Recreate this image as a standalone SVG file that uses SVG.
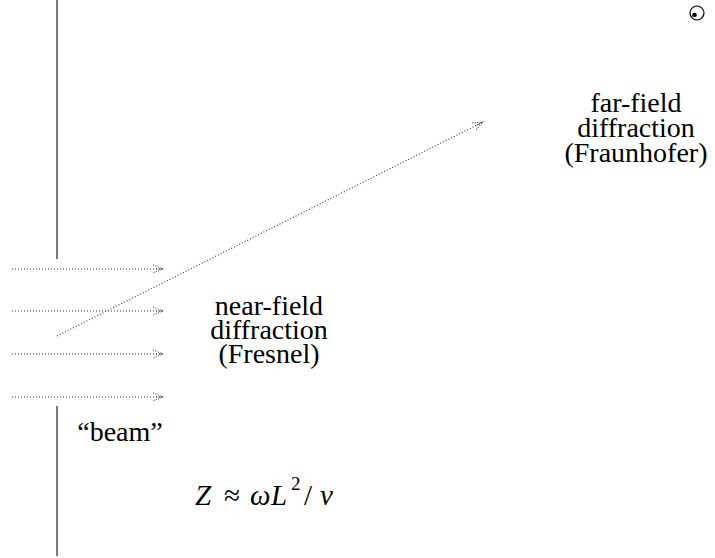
<svg xmlns="http://www.w3.org/2000/svg" width="715" height="558" viewBox="0 0 715 558">
<style>
.t{font-size:28px;text-anchor:middle;fill:#000}
.m{font-size:29px;font-style:italic;fill:#000}
.r{font-style:normal}
.wall{stroke:#333;stroke-width:1.3;fill:none}
.ray{stroke:#333;stroke-width:1.1;stroke-dasharray:1 2;fill:none}
</style>
<defs>
<marker id="ah" markerWidth="14" markerHeight="10" refX="12" refY="5" orient="auto" markerUnits="userSpaceOnUse">
<path d="M2,1 L12,5 L2,9 M5,5 L12,5" stroke="#333" stroke-width="1" stroke-dasharray="1 1.5" fill="none"/>
</marker>
</defs>
<rect width="715" height="558" fill="#fff"/>
<g id="wall">
<line class="wall" x1="57" y1="0" x2="57" y2="259"/>
<line class="wall" x1="57" y1="406" x2="57" y2="556"/>
</g>
<g id="connectors">
<line class="ray" x1="12" y1="269" x2="163" y2="269" marker-end="url(#ah)"/>
<line class="ray" x1="12" y1="311" x2="163" y2="311" marker-end="url(#ah)"/>
<line class="ray" x1="12" y1="354" x2="163" y2="354" marker-end="url(#ah)"/>
<line class="ray" x1="12" y1="397" x2="163" y2="397" marker-end="url(#ah)"/>
<line class="ray" x1="57" y1="336" x2="483" y2="122" marker-end="url(#ah)"/>
</g>
<g id="observer">
<circle cx="697" cy="13" r="7" fill="none" stroke="#000" stroke-width="1.2"/>
<circle cx="694.5" cy="15" r="2.3" fill="#000"/>
</g>
<g id="far-field">
<text class="t" style="font-family:'Liberation Serif',serif" x="636" y="112">far-field</text>
<text class="t" style="font-family:'Liberation Serif',serif" x="636" y="137">diffraction</text>
<text class="t" style="font-family:'Liberation Serif',serif" x="636" y="162">(Fraunhofer)</text>
</g>
<g id="near-field">
<text class="t" style="font-family:'Liberation Serif',serif" x="269" y="315">near-field</text>
<text class="t" style="font-family:'Liberation Serif',serif" x="269" y="339">diffraction</text>
<text class="t" style="font-family:'Liberation Serif',serif" x="269" y="363">(Fresnel)</text>
</g>
<g id="beam">
<text class="t" style="font-family:'Liberation Serif',serif" x="120" y="441">“beam”</text>
</g>
<g id="formula">
<text class="m" style="font-family:'Liberation Serif',serif" y="505"><tspan x="195">Z</tspan><tspan class="r" x="224">≈</tspan><tspan x="250">ω</tspan><tspan x="271">L</tspan><tspan class="r" x="291" y="490" font-size="19">2</tspan><tspan class="r" x="304" y="505">/</tspan><tspan x="320">v</tspan></text>
</g>
</svg>
